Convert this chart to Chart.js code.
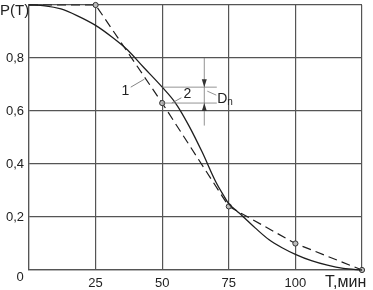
<!DOCTYPE html>
<html>
<head>
<meta charset="utf-8">
<script src="https://cdn.jsdelivr.net/npm/chart.js@4.4.1/dist/chart.umd.min.js"></script>
<style>
  html, body { margin: 0; padding: 0; background: #fff; }
  #wrap { width: 373px; height: 290px; }
</style>
</head>
<body>
<div id="wrap"><canvas id="grafico" width="373" height="290"></canvas></div>
<script>
// dados
var tempos = [0, 25, 50, 75, 100, 125];            // T, мин (pontos empíricos)
var empirica = [1.0, 1.0, 0.63, 0.24, 0.10, 0.0];   // curva 1 (tracejada)
var temposTeor = [0, 6, 12, 18, 25, 31, 37, 43, 50, 55, 60, 65, 70, 73, 75, 78, 80, 85, 90, 95, 100, 106, 112, 118, 125];
var teorica = [1.0, 0.997, 0.985, 0.96, 0.923, 0.88, 0.83, 0.765, 0.69, 0.63, 0.545, 0.445, 0.335, 0.282, 0.25, 0.223, 0.205, 0.158, 0.115, 0.084, 0.059, 0.035, 0.018, 0.006, 0.0]; // curva 2
var ticksX = [0, 25, 50, 75, 100, 125];
var ticksY = [0, 0.2, 0.4, 0.6, 0.8, 1.0];

var corLinha = '#1e1e1e';
var corGrade = '#555';
var fonte = '"Liberation Sans", Arial, sans-serif';

// textos e marcações (rótulos, Dn)
var anotacoes = {
  id: 'anotacoes',
  afterDraw: function (chart) {
    var ctx = chart.ctx;
    var sx = chart.scales.x, sy = chart.scales.y;
    var px = function (v) { return sx.getPixelForValue(v); };
    var py = function (v) { return sy.getPixelForValue(v); };
    ctx.save();
    ctx.fillStyle = '#222';
    ctx.strokeStyle = '#666';
    ctx.lineWidth = 0.8;

    ctx.font = '15px ' + fonte;
    ctx.textAlign = 'left';
    ctx.textBaseline = 'alphabetic';
    ctx.fillText('P(T)', 0, 15);
    ctx.font = '16px ' + fonte;
    ctx.fillText('T,мин', 325, 287);
    ctx.font = '13px ' + fonte;
    ctx.textAlign = 'center';
    ctx.textBaseline = 'middle';
    ctx.fillText('0', 20, 277);

    // rótulos das curvas
    ctx.font = '14px ' + fonte;
    ctx.fillText('1', px(36.2), py(0.675));
    ctx.fillText('2', px(59.5), py(0.665));
    ctx.beginPath();
    ctx.moveTo(px(38.2), py(0.69)); ctx.lineTo(px(43.3), py(0.72));
    ctx.moveTo(px(57.2), py(0.65)); ctx.lineTo(px(53.6), py(0.63));
    ctx.stroke();

    // Dn: diferença entre as curvas em T = 50
    var yA = py(teorica[temposTeor.indexOf(50)]);
    var yB = py(empirica[tempos.indexOf(50)]);
    var xa = px(50), xb = px(70.5), xv = px(65.8);
    ctx.strokeStyle = '#777';
    ctx.beginPath();
    ctx.moveTo(xa, yA); ctx.lineTo(xb, yA);
    ctx.moveTo(xa, yB); ctx.lineTo(xb, yB);
    ctx.moveTo(xv, py(0.8)); ctx.lineTo(xv, py(0.545));
    ctx.moveTo(xv + 3, yA + 4); ctx.lineTo(xv + 12, yA + 8);
    ctx.stroke();
    ctx.fillStyle = '#333';
    ctx.beginPath();
    ctx.moveTo(xv, yA); ctx.lineTo(xv - 2.5, yA - 8); ctx.lineTo(xv + 2.5, yA - 8); ctx.closePath();
    ctx.moveTo(xv, yB); ctx.lineTo(xv - 2.5, yB + 8); ctx.lineTo(xv + 2.5, yB + 8); ctx.closePath();
    ctx.fill();
    ctx.fillStyle = '#222';
    ctx.textAlign = 'left';
    ctx.textBaseline = 'alphabetic';
    ctx.font = '14px ' + fonte;
    ctx.fillText('D', xv + 13, yA + 16);
    ctx.font = '10px ' + fonte;
    ctx.fillText('n', xv + 23, yA + 18);
    ctx.restore();
  }
};

var ctx = document.getElementById('grafico').getContext('2d');
var grafico = new Chart(ctx, {
  type: 'line',
  data: {
    datasets: [
      {
        label: '2',
        data: temposTeor.map(function (t, i) { return { x: t, y: teorica[i] }; }),
        borderColor: corLinha,
        borderWidth: 1.3,
        pointRadius: 0,
        cubicInterpolationMode: 'monotone',
        fill: false,
        clip: false
      },
      {
        label: '1',
        data: tempos.map(function (t, i) { return { x: t, y: empirica[i] }; }),
        borderColor: corLinha,
        borderWidth: 1.2,
        borderDash: [9, 5],
        pointRadius: tempos.map(function (t) { return t === 0 ? 0 : 2.6; }),
        pointBackgroundColor: '#bbb',
        pointBorderColor: '#333',
        pointBorderWidth: 1,
        tension: 0,
        fill: false,
        clip: false
      }
    ]
  },
  options: {
    responsive: false,
    animation: false,
    events: [],
    layout: { padding: { top: 4, right: 11, left: 0, bottom: 0 } },
    plugins: {
      legend: { display: false },
      tooltip: { enabled: false }
    },
    scales: {
      x: {
        type: 'linear',
        min: 0,
        max: 125,
        afterFit: function (s) { s.height = 20; s.paddingLeft = 0; s.paddingRight = 0; },
        afterBuildTicks: function (s) { s.ticks = ticksX.map(function (v) { return { value: v }; }); },
        grid: { color: corGrade, lineWidth: 1.2, drawTicks: false },
        border: { color: corGrade, width: 1.2 },
        ticks: {
          padding: 6,
          color: '#222',
          font: { family: fonte, size: 13 },
          callback: function (v) { return (v === 0 || v === 125) ? '' : String(v); }
        }
      },
      y: {
        min: 0,
        max: 1,
        afterFit: function (s) { s.width = 29; s.paddingTop = 0; s.paddingBottom = 0; },
        afterBuildTicks: function (s) { s.ticks = ticksY.map(function (v) { return { value: v }; }); },
        grid: { color: corGrade, lineWidth: 1.2, drawTicks: false },
        border: { color: corGrade, width: 1.2 },
        ticks: {
          padding: 5,
          color: '#222',
          font: { family: fonte, size: 13 },
          callback: function (v) {
            if (v === 0 || v === 1) return '';
            return v.toFixed(1).replace('.', ',');
          }
        }
      }
    }
  },
  plugins: [anotacoes]
});
</script>
</body>
</html>
